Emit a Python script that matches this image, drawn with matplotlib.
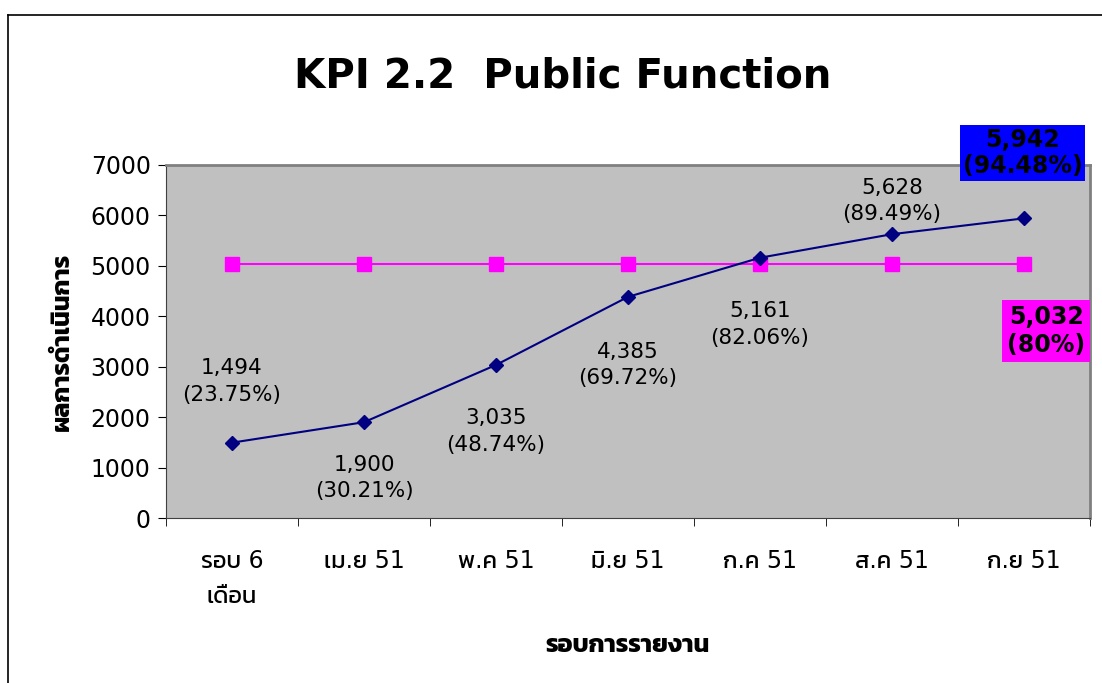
import matplotlib
matplotlib.use("Agg")
import matplotlib.pyplot as plt
from matplotlib import font_manager
from matplotlib.ft2font import FT2Font
from matplotlib.lines import Line2D

# data
categories = ["รอบ 6\nเดือน", "เม.ย 51", "พ.ค 51", "มิ.ย 51", "ก.ค 51", "ส.ค 51", "ก.ย 51"]
results = [1494, 1900, 3035, 4385, 5161, 5628, 5942]
result_labels = ["1,494\n(23.75%)", "1,900\n(30.21%)", "3,035\n(48.74%)", "4,385\n(69.72%)",
                 "5,161\n(82.06%)", "5,628\n(89.49%)", "5,942\n(94.48%)"]
target = [5032, 5032, 5032, 5032, 5032, 5032, 5032]
target_label = "5,032\n(80%)"

# find installed families that have Thai glyphs, prefer ones with a bold face
thai = {}
for f in font_manager.fontManager.ttflist:
    try:
        if 0x0E01 in FT2Font(f.fname).get_charmap():
            w = f.weight if isinstance(f.weight, int) else 400
            thai[f.name] = max(thai.get(f.name, 0), w)
    except Exception:
        pass
thai_fams = sorted(thai, key=lambda n: -thai[n])
families = ["DejaVu Sans"] + thai_fams
plt.rcParams["font.family"] = families

fig = plt.figure(figsize=(11.02, 6.83), dpi=100)
ax = fig.add_axes([166 / 1102, 1 - 518 / 683, 924 / 1102, 353 / 683])
ax.set_facecolor("#C0C0C0")

x = list(range(len(categories)))
ax.plot(x, target, color="#FF00FF", lw=1.5, marker="s", ms=9.5, zorder=3)
ax.plot(x, results, color="#000080", lw=1.5, marker="D", ms=7, zorder=4)

ax.set_xlim(-0.5, len(categories) - 0.5)
ax.set_ylim(0, 7000)
ax.set_yticks(range(0, 7001, 1000))
ax.set_xticks(x)
ax.set_xticklabels(categories, fontsize=17, linespacing=1.6)
ax.set_xticks([i - 0.5 for i in range(len(categories) + 1)], minor=True)
ax.tick_params(axis="x", which="major", length=0, pad=22)
ax.tick_params(axis="x", which="minor", length=6, direction="out")
ax.tick_params(axis="y", labelsize=17, length=6, direction="out", pad=5)
for s in ["top", "right"]:
    ax.spines[s].set_color("#808080")
    ax.spines[s].set_linewidth(2)
for s in ["left", "bottom"]:
    ax.spines[s].set_color("#404040")

# data labels (offsets in points)
offsets = [(0, 44), (0, -40), (0, -48), (0, -49), (0, -48), (0, 24)]
for i, (v, lab) in enumerate(zip(results, result_labels)):
    if i == len(results) - 1:
        ax.annotate(lab, (i, v), xytext=(-1, 47), textcoords="offset points",
                    ha="center", va="center", fontsize=17, fontweight="bold",
                    linespacing=1.1,
                    bbox=dict(boxstyle="square,pad=0.12", fc="#0000FF", ec="none"),
                    annotation_clip=False)
    else:
        ax.annotate(lab, (i, v), xytext=offsets[i], textcoords="offset points",
                    ha="center", va="center", fontsize=15.5, linespacing=1.4)
ax.annotate(target_label, (len(target) - 1, target[-1]), xytext=(16, -48),
            textcoords="offset points", ha="center", va="center", fontsize=17,
            fontweight="bold", linespacing=1.25,
            bbox=dict(boxstyle="square,pad=0.2", fc="#FF00FF", ec="none"),
            annotation_clip=False)

fig.text(563 / 1102, 1 - 76 / 683, "KPI 2.2  Public Function", ha="center", va="center",
         fontsize=29, fontweight="bold")
ax.set_xlabel("รอบการรายงาน", fontsize=18, fontweight="bold", labelpad=18)
ax.set_ylabel("ผลการดำเนินการ", fontsize=18, fontweight="bold", labelpad=12)

# outer chart border (left and top edges visible)
fig.add_artist(Line2D([8 / 1102, 8 / 1102], [0, 1 - 15 / 683], color="black", lw=1.2))
fig.add_artist(Line2D([8 / 1102, 1], [1 - 15 / 683, 1 - 15 / 683], color="black", lw=1.2))

fig.savefig("out.png", dpi=100)
